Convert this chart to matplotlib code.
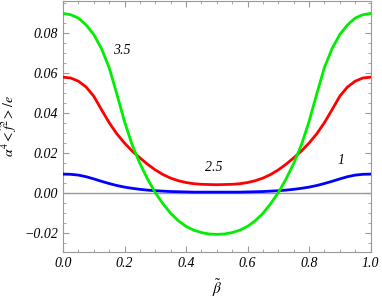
import numpy as np
import matplotlib
matplotlib.use("Agg")
import matplotlib.pyplot as plt
from matplotlib.ticker import MultipleLocator

plt.rcParams['mathtext.fontset'] = 'stix'
plt.rcParams['font.family'] = ['Liberation Serif', 'DejaVu Serif']

# values, x step 0.025
beta = np.linspace(0.0, 1.0, 41)
f_35 = [0.0895, 0.0889, 0.0872, 0.0838, 0.0790, 0.0720, 0.0625, 0.0493, 0.0355, 0.0238,
        0.0146, 0.0068, 0.0000, -0.0055, -0.0103, -0.0140, -0.0168, -0.0187, -0.0199, -0.0206,
        -0.0208,
        -0.0206, -0.0199, -0.0187, -0.0168, -0.0140, -0.0103, -0.0055, 0.0000, 0.0068, 0.0146,
        0.0238, 0.0355, 0.0493, 0.0625, 0.0720, 0.0790, 0.0838, 0.0872, 0.0889, 0.0895]
f_25 = [0.0577, 0.0573, 0.0557, 0.0528, 0.0482, 0.0415, 0.0350, 0.0294, 0.0248, 0.0208,
        0.0174, 0.0142, 0.0114, 0.0091, 0.0073, 0.0060, 0.0051, 0.0045, 0.0042, 0.0041,
        0.0040,
        0.0041, 0.0042, 0.0045, 0.0051, 0.0060, 0.0073, 0.0091, 0.0114, 0.0142, 0.0174,
        0.0208, 0.0248, 0.0294, 0.0350, 0.0415, 0.0482, 0.0528, 0.0557, 0.0573, 0.0577]
f_1 = [0.0093, 0.0092, 0.0088, 0.0080, 0.0069, 0.0057, 0.0046, 0.0036, 0.0028, 0.0022,
       0.0017, 0.0013, 0.0010, 0.0008, 0.0006, 0.0005, 0.0004, 0.0003, 0.0003, 0.0003,
       0.0003,
       0.0003, 0.0003, 0.0003, 0.0004, 0.0005, 0.0006, 0.0008, 0.0010, 0.0013, 0.0017,
       0.0022, 0.0028, 0.0036, 0.0046, 0.0057, 0.0069, 0.0080, 0.0088, 0.0092, 0.0093]

labels = ['3.5', '2.5', '1']
label_pos = [(0.19, 0.0712), (0.49, 0.0125), (0.905, 0.0160)]


def yfmt(v, p):
    if abs(v) < 1e-9:
        return '0.00'
    s = '%.2f' % abs(v)
    return ('\u2212' + s) if v < 0 else s


fig = plt.figure(figsize=(3.82, 3.0), dpi=100)
ax = fig.add_axes([0.165, 0.16, 0.805, 0.837])

ax.axhline(0, color='#999999', lw=1.0, zorder=1)
ax.plot(beta, f_1, color='#0000ff', lw=2.0, zorder=3)
ax.plot(beta, f_25, color='#ff0000', lw=2.0, zorder=3)
ax.plot(beta, f_35, color='#00ee00', lw=2.0, zorder=3)

for t, (x, y) in zip(labels, label_pos):
    ax.text(x, y, t, fontsize=10, style='italic', ha='center', va='center')

ax.set_xlim(0, 1.0)
ax.set_ylim(-0.0296, 0.0958)
ax.xaxis.set_major_locator(MultipleLocator(0.2))
ax.xaxis.set_minor_locator(MultipleLocator(0.05))
ax.yaxis.set_major_locator(MultipleLocator(0.02))
ax.yaxis.set_minor_locator(MultipleLocator(0.005))
ax.xaxis.set_major_formatter(plt.FuncFormatter(lambda v, p: '%.1f' % v))
ax.yaxis.set_major_formatter(plt.FuncFormatter(yfmt))
ax.tick_params(which='both', direction='in', top=True, right=True, color='#999999',
               labelsize=10)
ax.tick_params(which='major', length=4)
ax.tick_params(which='minor', length=2)
for lab in ax.get_xticklabels() + ax.get_yticklabels():
    lab.set_fontstyle('italic')
for s in ax.spines.values():
    s.set_color('#999999')
    s.set_linewidth(0.8)

ax.set_xlabel(r'$\tilde{\beta}$', fontsize=11, labelpad=5)
ax.set_ylabel(r'$\alpha^4 <\hat{f}^2>/e$', fontsize=10, labelpad=4)

fig.savefig('out.png', dpi=100)
